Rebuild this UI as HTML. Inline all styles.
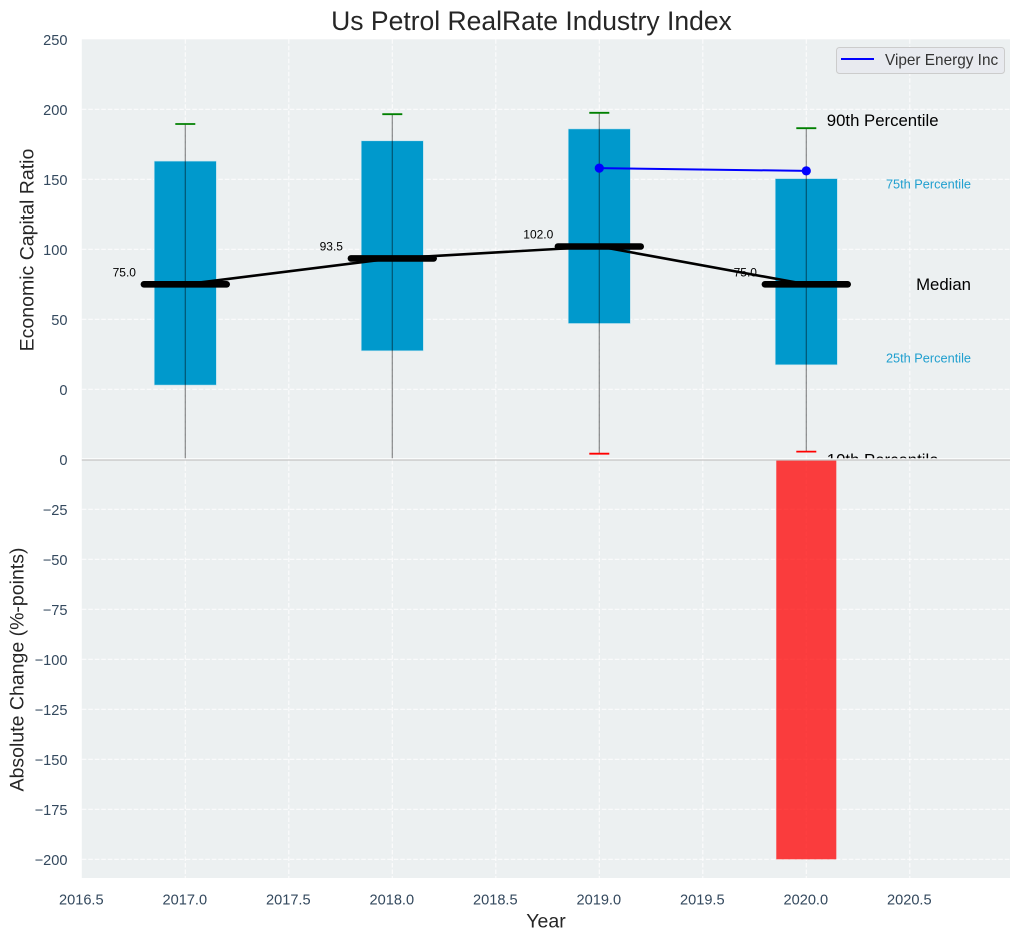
<!DOCTYPE html>
<html lang="en">
<head>
<meta charset="utf-8">
<title>Us Petrol RealRate Industry Index</title>
<style>
html,body{margin:0;padding:0;background:#fff;width:1021px;height:940px;overflow:hidden}
svg{display:block;font-family:"Liberation Sans",Arial,sans-serif}
</style>
</head>
<body>
<svg id="chart" xmlns="http://www.w3.org/2000/svg" width="1021" height="940" viewBox="0 0 1021 940">
<defs>
<clipPath id="top-clip"><rect x="81.8" y="39.3" width="928.2" height="419.5"/></clipPath>
<clipPath id="bottom-clip"><rect x="81.8" y="459.3" width="928.2" height="418.7"/></clipPath>
</defs>
<text x="531.5" y="30" font-size="26.5px" fill="#262626" text-anchor="middle">Us Petrol RealRate Industry Index</text>
<rect x="81.8" y="39.3" width="928.2" height="420" fill="#ecf0f1"/>
<g id="top-grid"></g>
<g id="top-ticks"></g>
<g id="top-marks" clip-path="url(#top-clip)"></g>
<g id="annotations"></g>
<rect x="81.8" y="459" width="928.2" height="419" fill="#ecf0f1"/>
<g id="bottom-grid"></g>
<g id="bottom-ticks"></g>
<g id="x-ticks"></g>
<g id="bottom-marks" clip-path="url(#bottom-clip)"></g>
<line x1="81.8" x2="1010" y1="458.9" y2="458.9" stroke="#ffffff" stroke-width="1.2"/>
<line x1="81.8" x2="1010" y1="460" y2="460" stroke="#c4c4c4" stroke-width="1.3"/>
<text transform="translate(33.5 250) rotate(-90)" font-size="19.5px" fill="#262626" text-anchor="middle">Economic Capital Ratio</text>
<text transform="translate(23.5 669.5) rotate(-90)" font-size="19.5px" fill="#262626" text-anchor="middle">Absolute Change (%-points)</text>
<text x="546" y="927.5" font-size="19.5px" fill="#262626" text-anchor="middle">Year</text>
<g>
<rect x="836.5" y="47.5" width="168" height="26" rx="3" fill="#e8eaef" stroke="#cccccc" stroke-width="1"/>
<line x1="841" x2="874" y1="59" y2="59" stroke="#0000ff" stroke-width="2"/>
<text x="885" y="65" font-size="15.35px" fill="#333333">Viper Energy Inc</text>
</g>
</svg>
<script>
const years = [2017, 2018, 2019, 2020];
const p90 = [189.5, 196.5, 197.5, 186.5];
const p75 = [163, 177.5, 186, 150.5];
const median = [75, 93.5, 102, 75];
const p25 = [3, 27.5, 47, 17.5];
const p10 = [-60, -60, -46, -44.5];
const medianLabels = ['75.0', '93.5', '102.0', '75.0'];
const viperYears = [2019, 2020];
const viperValues = [158, 156];
const changeYears = [2020];
const changeValues = [-200];
const xTicks = [2016.5, 2017, 2017.5, 2018, 2018.5, 2019, 2019.5, 2020, 2020.5];
const topYTicks = [0, 50, 100, 150, 200, 250];
const bottomYTicks = [0, -25, -50, -75, -100, -125, -150, -175, -200];

const NS = 'http://www.w3.org/2000/svg';
const xAt = v => 185.3 + (v - 2017) * 207;
const yTop = v => 389.3 - v * 1.4;
const yBottom = v => 459.3 - v * 2;
const TOP_LEFT = 81.8, RIGHT = 1010;
const make = (parent, tag, props, text) => {
  const el = document.createElementNS(NS, tag);
  for (const k in props) el.setAttribute(k, props[k]);
  if (text !== undefined) el.textContent = text;
  parent.appendChild(el);
  return el;
};
const byId = id => document.getElementById(id);
const gridStyle = {stroke: '#ffffff', 'stroke-width': 1.1, 'stroke-dasharray': '4.5 2', opacity: 0.85};
const fmt = v => String(v).replace('-', '\u2212');

for (const t of xTicks) {
  if (t > 2016.5) {
    const a = make(byId('top-grid'), 'line', {x1: xAt(t), x2: xAt(t), y1: 39.3, y2: 459, ...gridStyle});
    
    
    const b = make(byId('bottom-grid'), 'line', {x1: xAt(t), x2: xAt(t), y1: 460, y2: 878, ...gridStyle});
    
    
  }
  const lab = make(byId('x-ticks'), 'text', {x: xAt(t) - 0.5, y: 904.5, 'font-size': '14.6px', fill: '#34495e', 'text-anchor': 'middle'}, t.toFixed(1));
  
  
}
for (const t of topYTicks) {
  if (t < 250) {
    const g = make(byId('top-grid'), 'line', {x1: TOP_LEFT, x2: RIGHT, y1: yTop(t), y2: yTop(t), ...gridStyle});
    
    
  }
  const lab = make(byId('top-ticks'), 'text', {x: 67.5, y: yTop(t) + 5.5, 'font-size': '14.6px', fill: '#34495e', 'text-anchor': 'end'}, fmt(t));
  
  
}
for (const t of bottomYTicks) {
  if (t < 0) {
    const g = make(byId('bottom-grid'), 'line', {x1: TOP_LEFT, x2: RIGHT, y1: yBottom(t), y2: yBottom(t), ...gridStyle});
    
    
  }
  const lab = make(byId('bottom-ticks'), 'text', {x: 67.5, y: yBottom(t) + 5.5, 'font-size': '14.6px', fill: '#34495e', 'text-anchor': 'end'}, fmt(t));
  
  
}

const marks = byId('top-marks');
years.forEach((yr, i) => {
  const box = make(marks, 'rect', {x: xAt(yr - 0.15), width: 207 * 0.3, y: yTop(p75[i]), height: yTop(p25[i]) - yTop(p75[i]), fill: '#0099cc', stroke: '#bfe3ef', 'stroke-width': 0.6});
  
  
  const whisk = make(marks, 'line', {x1: xAt(yr), x2: xAt(yr), y1: yTop(p90[i]), y2: yTop(p10[i]), stroke: '#000000', 'stroke-opacity': 0.45, 'stroke-width': 1.2});
  
  
  const capHi = make(marks, 'line', {x1: xAt(yr) - 10, x2: xAt(yr) + 10, y1: yTop(p90[i]), y2: yTop(p90[i]), stroke: '#008000', 'stroke-width': 1.8});
  
  
  const capLo = make(marks, 'line', {x1: xAt(yr) - 10, x2: xAt(yr) + 10, y1: yTop(p10[i]), y2: yTop(p10[i]), stroke: '#ff0000', 'stroke-width': 1.8});
  
  
  const lab = make(marks, 'text', {x: xAt(yr) - 61, y: yTop(median[i]) - 8, 'font-size': '12px', fill: '#000000', 'text-anchor': 'middle'}, medianLabels[i]);
  
  
});

const medianPath = make(marks, 'polyline', {points: years.map((yr, i) => xAt(yr) + ',' + yTop(median[i])).join(' '), fill: 'none', stroke: '#000000', 'stroke-width': 2.6});


years.forEach((yr, i) => {
  const bar = make(marks, 'line', {x1: xAt(yr - 0.2), x2: xAt(yr + 0.2), y1: yTop(median[i]), y2: yTop(median[i]), stroke: '#000000', 'stroke-width': 6.6, 'stroke-linecap': 'round'});
  
  
});

const viperPath = make(marks, 'polyline', {points: viperYears.map((yr, i) => xAt(yr) + ',' + yTop(viperValues[i])).join(' '), fill: 'none', stroke: '#0000ff', 'stroke-width': 2});


viperYears.forEach((yr, i) => {
  const dot = make(marks, 'circle', {cx: xAt(yr), cy: yTop(viperValues[i]), r: 4.6, fill: '#0000ff'});
  
  
});

const lastYear = years[years.length - 1];
const lastIdx = years.length - 1;
const ann = byId('annotations');
const a90 = make(ann, 'text', {x: xAt(lastYear) + 20.5, y: yTop(p90[lastIdx]) - 2, 'font-size': '16.75px', fill: '#000000'}, '90th Percentile');


const a10 = make(ann, 'text', {x: xAt(lastYear) + 20.5, y: yTop(p10[lastIdx]) + 14, 'font-size': '16.75px', fill: '#000000'}, '10th Percentile');


const a75 = make(ann, 'text', {x: 971, y: yTop(p75[lastIdx]) + 10, 'font-size': '12.75px', fill: '#1f9fcf', 'text-anchor': 'end'}, '75th Percentile');


const a25 = make(ann, 'text', {x: 971, y: yTop(p25[lastIdx]) - 2.5, 'font-size': '12.75px', fill: '#1f9fcf', 'text-anchor': 'end'}, '25th Percentile');


const aMed = make(ann, 'text', {x: 971, y: yTop(median[lastIdx]) + 5.8, 'font-size': '16.75px', fill: '#000000', 'text-anchor': 'end'}, 'Median');



changeYears.forEach((yr, i) => {
  const v = changeValues[i];
  const bar = make(byId('bottom-marks'), 'rect', {x: xAt(yr - 0.145), width: 207 * 0.29, y: yBottom(Math.max(v, 0)), height: Math.abs(yBottom(v) - yBottom(0)), fill: '#ff0000', 'fill-opacity': 0.75});
  
  
});
</script>
</body>
</html>
